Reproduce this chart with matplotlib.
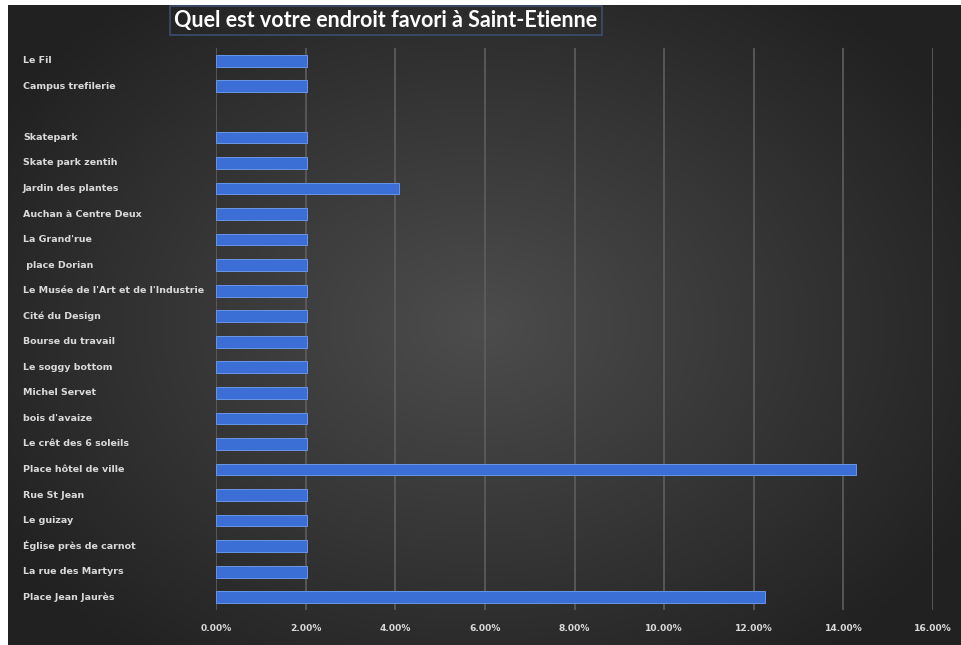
import numpy as np
import matplotlib
matplotlib.use("Agg")
import matplotlib.pyplot as plt
import matplotlib.transforms as mtransforms
from matplotlib.patches import Rectangle
from matplotlib.ticker import FuncFormatter

# data (share of answers, in %)
places = [
    "Le Fil", "Campus trefilerie", "", "Skatepark", "Skate park zentih",
    "Jardin des plantes", "Auchan à Centre Deux", "La Grand'rue", " place Dorian",
    "Le Musée de l'Art et de l'Industrie", "Cité du Design", "Bourse du travail",
    "Le soggy bottom", "Michel Servet", "bois d'avaize", "Le crêt des 6 soleils",
    "Place hôtel de ville", "Rue St Jean", "Le guizay", "Église près de carnot",
    "La rue des Martyrs", "Place Jean Jaurès",
]
shares = [
    2.04, 2.04, np.nan, 2.04, 2.04,
    4.08, 2.04, 2.04, 2.04,
    2.04, 2.04, 2.04,
    2.04, 2.04, 2.04, 2.04,
    14.29, 2.04, 2.04, 2.04,
    2.04, 12.24,
]
x_ticks = [0, 2, 4, 6, 8, 10, 12, 14, 16]
title = "Quel est votre endroit favori à Saint-Etienne"

W, H = 961, 645
fig = plt.figure(figsize=(W / 100, H / 100), dpi=100)
fig.patch.set_facecolor("white")

# dark background with a soft radial gradient
bg = fig.add_axes([8 / W, 0, 1 - 8 / W, 1 - 5 / H])
bg.set_axis_off()
yy, xx = np.mgrid[0:640, 0:953]
r = np.sqrt(((xx - 470) / 560.0) ** 2 + ((yy - 320) / 420.0) ** 2)
shade = np.clip(0.30 - 0.17 * r, 0.13, 0.30)
bg.imshow(np.dstack([shade] * 3), aspect="auto", interpolation="bilinear")

ax = fig.add_axes([216 / W, 1 - 610 / H, 717 / W, 562 / H])
ax.set_facecolor("none")

ypos = np.arange(len(places))
vals = np.nan_to_num(np.array(shares, dtype=float))
for y, v in zip(ypos, vals):
    if v > 0:
        ax.barh(y, v, height=0.46, color="#3b6fd6", edgecolor="#6a95e6",
                linewidth=0.7, zorder=3)

ax.set_xlim(0, 16)
ax.set_ylim(len(places) - 0.5, -0.5)
ax.set_xticks(x_ticks)
ax.xaxis.set_major_formatter(FuncFormatter(lambda v, p: f"{v:.2f}%"))
ax.grid(axis="x", color="#5e5e5e", linewidth=1.2, zorder=1)
ax.tick_params(axis="x", length=0, pad=10, labelsize=6.6, labelcolor="#d9d9d9")
for lbl in ax.get_xticklabels():
    lbl.set_fontfamily("DejaVu Sans")
    lbl.set_fontweight("bold")
ax.set_yticks([])
for s in ax.spines.values():
    s.set_visible(False)

# category labels, left aligned near the frame edge
trans = mtransforms.blended_transform_factory(fig.transFigure, ax.transData)
for y, name in zip(ypos, places):
    ax.text(23 / W, y, name, transform=trans, ha="left", va="center",
            fontsize=6.8, fontweight="bold", family="DejaVu Sans", color="#d9d9d9")

# title in its thin box
fig.patches.append(Rectangle((170 / W, 1 - 35 / H), 432 / W, 29 / H,
                             transform=fig.transFigure, facecolor="none",
                             edgecolor="#3d4d6e", linewidth=1.2))
fig.text(386 / W, 1 - 20 / H, title, ha="center", va="center",
         fontsize=15.5, fontweight="bold", family="Lato", color="white")

fig.savefig("out.png", dpi=100, facecolor=fig.get_facecolor())
